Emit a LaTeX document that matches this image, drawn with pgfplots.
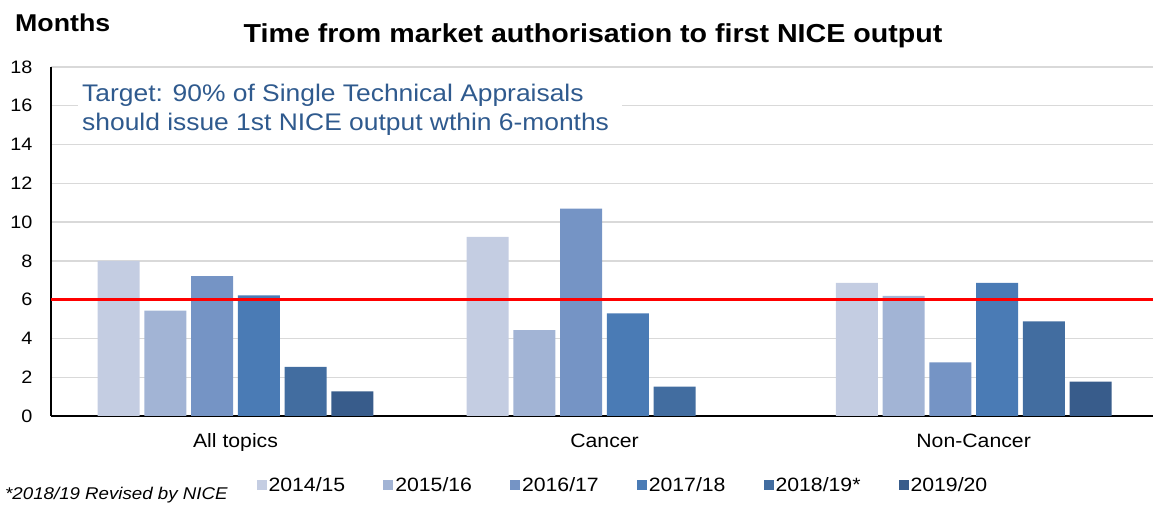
\documentclass[border=0pt]{standalone}
\usepackage{fontspec}
\setmainfont{Liberation Sans}[FakeStretch=1.1]
\usepackage{pgfplots}
\pgfplotsset{compat=1.18}
\definecolor{c1}{HTML}{C4CDE2}
\definecolor{c2}{HTML}{A2B4D5}
\definecolor{c3}{HTML}{7594C5}
\definecolor{c4}{HTML}{4A7BB5}
\definecolor{c5}{HTML}{426DA0}
\definecolor{c6}{HTML}{385C8B}
\definecolor{tblue}{HTML}{2F5A8E}
\definecolor{gridc}{HTML}{D9D9D9}
\begin{document}
\begin{tikzpicture}[x=1pt,y=1pt]
\useasboundingbox (0,0) rectangle (1153,505);
\begin{axis}[
  at={(51pt,89pt)}, anchor=south west,
  scale only axis, width=1102pt, height=349pt,
  xmin=-0.5, xmax=2.486, ymin=0, ymax=18,
  ytick={0,2,...,18},
  xtick={0,1,2}, xticklabels={All topics,Cancer,Non-Cancer},
  axis x line=bottom, axis y line=left,
  axis line style={-, black, line width=1.6pt},
  major tick length=0pt,
  ymajorgrids, grid style={gridc, line width=1.3pt},
  ybar=4.75pt, bar width=42pt,
  /pgf/number format/assume math mode=true,
  yticklabel style={font=\fontsize{18}{18}\selectfont, anchor=east, xshift=-15pt},
  xticklabel style={font=\fontsize{19.3}{20}\selectfont, anchor=base, yshift=-32pt},
  legend columns=6,
  legend style={at={(0.519,-0.198)}, anchor=center, draw=none, fill=none,
    font=\fontsize{19.3}{20}\selectfont,
    /tikz/every even column/.append style={column sep=36pt},
    legend cell align=left},
  legend image code/.code={\fill[#1] (0pt,-5pt) rectangle (10pt,5pt);},
]
\addplot[fill=c1, draw=none] coordinates {(0,8.0) (1,9.24) (2,6.86)};
\addplot[fill=c2, draw=none] coordinates {(0,5.43) (1,4.43) (2,6.2)};
\addplot[fill=c3, draw=none] coordinates {(0,7.22) (1,10.7) (2,2.77)};
\addplot[fill=c4, draw=none] coordinates {(0,6.22) (1,5.29) (2,6.86)};
\addplot[fill=c5, draw=none] coordinates {(0,2.53) (1,1.51) (2,4.88)};
\addplot[fill=c6, draw=none] coordinates {(0,1.27) (2,1.77)};
\addplot[sharp plot, draw=red, line width=3pt, forget plot] coordinates {(-0.5,6) (2.486,6)};
\legend{2014/15,2015/16,2016/17,2017/18,2018/19*,2019/20}
\end{axis}
\fill[white] (78,365) rectangle (622,430);
\node[anchor=base west, inner sep=0pt, text=tblue, font=\fontsize{24}{24}\selectfont] at (82,403) {Target: 90\% of Single Technical Appraisals};
\node[anchor=base west, inner sep=0pt, text=tblue, font=\fontsize{24}{24}\selectfont] at (82,374) {should issue 1st NICE output wthin 6-months};
\node[anchor=base west, inner sep=0pt, font=\fontsize{24.3}{24}\selectfont\bfseries] at (15,473) {Months};
\node[anchor=base, inner sep=0pt, font=\fontsize{26}{26}\selectfont\bfseries] at (593,462) {Time from market authorisation to first NICE output};
\node[anchor=base west, inner sep=0pt, font=\fontsize{17}{17}\selectfont\itshape] at (5,5) {*2018/19 Revised by NICE};
\end{tikzpicture}
\end{document}
